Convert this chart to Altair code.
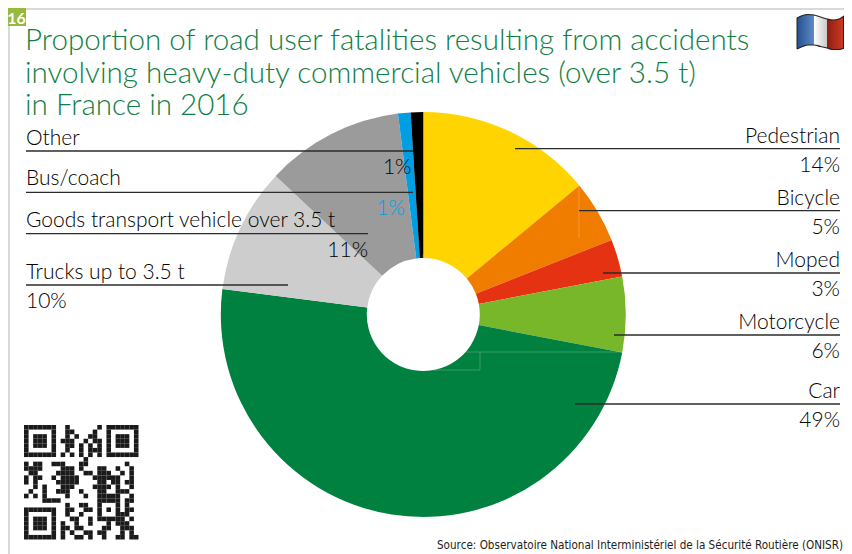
import altair as alt
import pandas as pd

categories = ["Pedestrian", "Bicycle", "Moped", "Motorcycle", "Car", "Trucks up to 3.5 t",
              "Goods transport vehicle over 3.5 t", "Bus/coach", "Other"]
shares = [14, 5, 3, 6, 49, 10, 11, 1, 1]
colours = ["#ffd400", "#f07d00", "#e53212", "#78b72a", "#008140", "#cdcdcd", "#9c9b9b", "#009ee3", "#000000"]
share_labels = ["14%", "5%", "3%", "6%", "49%", "10%", "11%", "1%", "1%"]
title_lines = ["Proportion of road user fatalities resulting from accidents",
               "involving heavy-duty commercial vehicles (over 3.5 t)",
               "in France in 2016"]
source_text = "Source: Observatoire National Interministériel de la Sécurité Routière (ONISR)"

# image-pixel layout of the annotation furniture
label_x = [840, 840, 840, 840, 840, 26, 26, 26, 26]
label_align = ["right"] * 5 + ["left"] * 4
label_base = [143, 205, 267, 329, 398, 279, 227, 185, 144.5]
pct_x = [840, 840, 840, 840, 840, 26, 368, 405, 411.5]
pct_base = [172, 234, 296, 358, 427, 308, 257, 215, 174]
pct_colour = ["#000000"] * 7 + ["#009ee3", "#000000"]
pct_align = ["right"] * 5 + ["left"] + ["right"] * 3
rule_x = [515, 579, 603, 614, 575, 26, 26, 26, 26]
rule_x2 = [840, 840, 840, 840, 840, 288, 368, 413, 413]
rule_y = [148.7, 210.7, 273, 335, 404, 285, 233.7, 192.3, 151]

qr_rows = [
    "1111111" "00100000010" "1111111",
    "1000001" "00110000100" "1000001",
    "1011101" "00101001100" "1011101",
    "1011101" "01110010110" "1011101",
    "1011101" "00110101010" "1011101",
    "1000001" "00100101110" "1000001",
    "1111111" "01010101010" "1111111",
    "0000000" "00000010000" "0000000",
    "1011001110001100000000100",
    "1111000011101000110010010",
    "0110000111100110111001010",
    "1011001011110001111110010",
    "1010000111110000110110110",
    "0010100011100001111010010",
    "0100100111001000110011100",
    "1010100001000100111110010",
    "0000111100000000" "11111" "0110",
    "0000000001001100" "10001" "0100",
    "1111111" "0" "01100110" "10101" "0110",
    "1000001" "0" "01001000" "10001" "1100",
    "1011101" "0" "00110010" "11111" "1010",
    "1011101" "0" "10010010" "001011100",
    "1011101" "0" "11011000" "011001110",
    "1000001" "0" "10100110" "110001010",
    "1111111" "0" "10011010" "010011011",
]

flag_x = [797, 802.5, 808, 814, 820.5, 827, 833, 839, 844]
flag_top = [18, 15.5, 14.5, 15, 17, 19, 20, 19, 16]
flag_bot = [49, 46.5, 45, 45, 46.5, 48, 49.5, 49.5, 48]
flag_bands = [(0, 4, "#24508f", "#5f8ac4"), (3, 6, "#ffffff", "#c9c9c9"), (5, 9, "#8f1d12", "#d03a24")]

FONT = "Lato"
W, H = 836, 546
xs = alt.Scale(domain=[8, 8 + W], range=[0, W])
ys = alt.Scale(domain=[8, 8 + H], range=[0, H])
X = lambda f: alt.X(f, scale=xs, axis=None)
Y = lambda f: alt.Y(f, scale=ys, axis=None)

pie_df = pd.DataFrame({"cat": categories, "share": shares, "colour": colours, "idx": range(9)})
pie = alt.Chart(pie_df).mark_arc(radius=202.5, radius2=56.5).encode(
    theta=alt.Theta("share:Q", stack=True, scale=alt.Scale(domain=[0, 100])),
    order=alt.Order("idx:Q"),
    color=alt.Color("colour:N", scale=None),
    x=alt.datum(423.3, scale=xs, axis=None),
    y=alt.datum(314.5, scale=ys, axis=None),
)

frame_df = pd.DataFrame({"x": [8, 8], "x2": [10, 844], "y": [8, 8], "y2": [554, 10]})
frame = alt.Chart(frame_df).mark_rect(color="#d9d9d9").encode(
    x=X("x:Q"), x2="x2:Q", y=Y("y:Q"), y2="y2:Q")

badge = alt.Chart(pd.DataFrame({"x": [8], "x2": [26], "y": [8], "y2": [26]})).mark_rect(color="#95b93a").encode(
    x=X("x:Q"), x2="x2:Q", y=Y("y:Q"), y2="y2:Q")
badge_text = alt.Chart(pd.DataFrame({"x": [16.5], "y": [24], "t": ["16"]})).mark_text(
    font="Lato", fontWeight="bold", fontSize=16, color="#ffffff",
    align="center", baseline="alphabetic").encode(x=X("x:Q"), y=Y("y:Q"), text="t:N")

title_df = pd.DataFrame({"x": [25] * 3, "y": [50, 82.5, 114.5], "t": title_lines})
title = alt.Chart(title_df).mark_text(font=FONT, fontSize=29.6, fontWeight=300, color="#117f45", align="left",
                                      baseline="alphabetic").encode(x=X("x:Q"), y=Y("y:Q"), text="t:N")

rule_df = pd.DataFrame({"x": rule_x, "x2": rule_x2, "y": rule_y})
rules = alt.Chart(rule_df).mark_rule(color="#2b2b2b", strokeWidth=1.3).encode(x=X("x:Q"), x2="x2:Q", y=Y("y:Q"))

lab_df = pd.DataFrame({"x": label_x, "y": label_base, "t": categories, "a": label_align})
pct_df = pd.DataFrame({"x": pct_x, "y": pct_base, "t": share_labels, "a": pct_align, "c": pct_colour})


def text_layer(df, colour_field=False):
    out = []
    for align in ["left", "right"]:
        sub = df[df["a"] == align]
        enc = dict(x=X("x:Q"), y=Y("y:Q"), text="t:N")
        if colour_field:
            enc["color"] = alt.Color("c:N", scale=None)
        out.append(alt.Chart(sub).mark_text(font=FONT, fontSize=21, fontWeight=300, align=align,
                                            baseline="alphabetic", color="#000000").encode(**enc))
    return out


src = alt.Chart(pd.DataFrame({"x": [437], "y": [549], "t": [source_text]})).mark_text(
    font="DejaVu Sans Condensed, Lato", fontSize=11.6, color="#1d1d1b", align="left", baseline="alphabetic"
).encode(x=X("x:Q"), y=Y("y:Q"), text="t:N")

cell = 114.5 / 25
qr_df = pd.DataFrame([
    {"x": 24 + c * cell, "x2": 24 + (c + 1) * cell, "y": 425 + r * cell, "y2": 425 + (r + 1) * cell}
    for r, row in enumerate(qr_rows) for c, v in enumerate(row) if v == "1"
])
qr = alt.Chart(qr_df).mark_rect(color="#1a1a1a").encode(x=X("x:Q"), x2="x2:Q", y=Y("y:Q"), y2="y2:Q")

flag_layers = []
for a, b, c1, c2 in flag_bands:
    d = pd.DataFrame({"x": flag_x[a:b], "y": flag_top[a:b], "y2": flag_bot[a:b]})
    flag_layers.append(alt.Chart(d).mark_area(
        interpolate="monotone",
        color=alt.Gradient(gradient="linear", x1=0, x2=1, y1=0, y2=0,
                           stops=[alt.GradientStop(color=c1, offset=0), alt.GradientStop(color=c2, offset=1)])
    ).encode(x=X("x:Q"), y=Y("y:Q"), y2="y2:Q"))
flag_edge = pd.DataFrame({"x": flag_x + flag_x, "y": flag_top + flag_bot, "side": ["t"] * 9 + ["b"] * 9})
flag_line = alt.Chart(flag_edge).mark_line(interpolate="monotone", color="#222222", strokeWidth=1.2).encode(
    x=X("x:Q"), y=Y("y:Q"), detail="side:N")
flag_side = alt.Chart(pd.DataFrame({"x": [797, 843.5], "y": [18, 16], "y2": [49, 48]})).mark_rule(
    color="#222222", strokeWidth=1).encode(x=X("x:Q"), y=Y("y:Q"), y2="y2:Q")

faint_df = pd.DataFrame({
    "x": [423, 579, 423, 423, 423, 480, 398],
    "x2": [423, 579, 622, 423, 480, 480, 410],
    "y": [254, 186, 352, 352, 370, 352, 314],
    "y2": [289, 238, 352, 370, 370, 370, 314],
})
faint = alt.Chart(faint_df).mark_rule(color="#ffffff", opacity=0.22, strokeWidth=1).encode(
    x=X("x:Q"), x2="x2:Q", y=Y("y:Q"), y2="y2:Q")

chart = alt.layer(
    frame, badge, badge_text, pie, faint, rules, title,
    *text_layer(lab_df), *text_layer(pct_df, True), src, qr, *flag_layers, flag_line, flag_side,
).properties(width=W, height=H, padding=0, autosize=alt.AutoSizeParams(type="none")).configure_view(stroke=None)

chart.save("out.html", embed_options={"renderer": "svg", "actions": False})
